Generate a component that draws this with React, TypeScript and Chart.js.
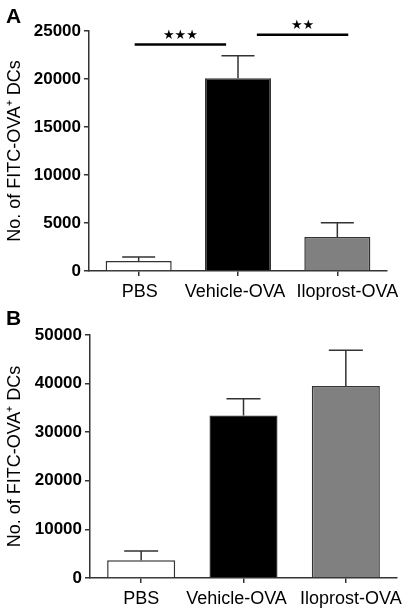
import React, { useEffect, useRef } from "react";
import { Chart, registerables } from "chart.js";

Chart.register(...registerables);

const categories = ["PBS", "Vehicle-OVA", "Iloprost-OVA"];
const barColors = ["#ffffff", "#000000", "#808080"];

// Panel A
const meanA = [1040, 20070, 3540];
const errTopA = [1460, 22430, 5035];
const ticksA = { max: 25000, step: 5000 };
const sigA = [
  { from: -0.04, to: 0.88, y: 23600, label: "★★★" },
  { from: 1.19, to: 2.11, y: 24600, label: "★★" },
];

// Panel B
const meanB = [3640, 33450, 39490];
const errTopB = [5560, 36880, 46840];
const ticksB = { max: 50000, step: 10000 };

const yTitle = "No. of FITC-OVA⁺ DCs";
const FONT = "'Liberation Sans', Arial, Helvetica, sans-serif";
const AXIS = "#333333";

type Sig = { from: number; to: number; y: number; label: string };
type Geo = {
  top: number;
  right: number;
  yWidth: number;
  xHeight: number;
  letterBase: number;
  labelNudge: number[];
};

function makeChart(
  canvas: HTMLCanvasElement,
  panel: string,
  means: number[],
  errTops: number[],
  t: { max: number; step: number },
  sig: Sig[],
  geo: Geo
) {
  const overlay = {
    id: "overlay" + panel,
    afterDatasetsDraw(chart: any) {
      const ctx = chart.ctx;
      const ys = chart.scales.y;
      const xs = chart.scales.x;
      const meta = chart.getDatasetMeta(0);
      ctx.save();
      // error bars
      ctx.strokeStyle = AXIS;
      ctx.lineWidth = 1.5;
      meta.data.forEach((bar: any, i: number) => {
        const yTop = ys.getPixelForValue(means[i]);
        const yErr = ys.getPixelForValue(errTops[i]);
        const half = bar.width / 4;
        ctx.beginPath();
        ctx.moveTo(bar.x, yTop);
        ctx.lineTo(bar.x, yErr);
        ctx.moveTo(bar.x - half, yErr);
        ctx.lineTo(bar.x + half, yErr);
        ctx.stroke();
      });
      // significance lines
      sig.forEach((s) => {
        const x1 = xs.getPixelForValue(s.from);
        const x2 = xs.getPixelForValue(s.to);
        const y = ys.getPixelForValue(s.y);
        ctx.strokeStyle = "#000";
        ctx.lineWidth = 2.5;
        ctx.beginPath();
        ctx.moveTo(x1, y);
        ctx.lineTo(x2, y);
        ctx.stroke();
        ctx.fillStyle = "#000";
        ctx.font = "13px 'DejaVu Sans', sans-serif";
        ctx.textAlign = "center";
        ctx.textBaseline = "middle";
        ctx.fillText(s.label, (x1 + x2) / 2, y - 9);
      });
      // category labels
      ctx.fillStyle = "#000";
      ctx.font = "18px " + FONT;
      ctx.textAlign = "center";
      ctx.textBaseline = "alphabetic";
      categories.forEach((c, i) => {
        const x = xs.getPixelForValue(i) + geo.labelNudge[i];
        ctx.fillText(c, x, xs.top + 26);
      });
      // panel letter
      ctx.font = "bold 21px " + FONT;
      ctx.textAlign = "left";
      ctx.fillText(panel, 6, geo.letterBase);
      ctx.restore();
    },
  };

  return new Chart(canvas, {
    type: "bar",
    data: {
      labels: categories,
      datasets: [
        {
          data: means,
          backgroundColor: barColors,
          borderColor: AXIS,
          borderWidth: 1.5,
          barPercentage: 0.665,
          categoryPercentage: 1,
        },
      ],
    },
    options: {
      responsive: false,
      animation: false,
      devicePixelRatio: 1,
      layout: { padding: { left: 0, top: geo.top, right: geo.right, bottom: 0 } },
      plugins: { legend: { display: false }, tooltip: { enabled: false } },
      scales: {
        x: {
          type: "category",
          offset: true,
          grid: {
            display: true,
            offset: false,
            drawOnChartArea: false,
            drawTicks: true,
            tickLength: 5,
            color: AXIS,
            lineWidth: 1.5,
          },
          border: { display: true, color: AXIS, width: 1.5 },
          ticks: {
            display: false,
          },
          afterFit(scale: any) {
            scale.height = geo.xHeight;
          },
        },
        y: {
          min: 0,
          max: t.max,
          grid: {
            display: true,
            drawOnChartArea: false,
            drawTicks: true,
            tickLength: 5,
            color: AXIS,
            lineWidth: 1.5,
          },
          border: { display: true, color: AXIS, width: 1.5 },
          ticks: {
            stepSize: t.step,
            font: { family: FONT, size: 17, weight: "bold" },
            color: "#000",
            padding: 3,
            callback: (v: any) => String(v),
          },
          title: {
            display: true,
            text: yTitle,
            font: { family: FONT, size: 18 },
            color: "#000",
            padding: { top: 4, bottom: 0 },
          },
          afterFit(scale: any) {
            scale.width = geo.yWidth;
          },
        },
      },
    } as any,
    plugins: [overlay],
  });
}

export default function App() {
  const refA = useRef<HTMLCanvasElement>(null);
  const refB = useRef<HTMLCanvasElement>(null);

  useEffect(() => {
    const a = makeChart(refA.current!, "A", meanA, errTopA, ticksA, sigA, {
      top: 31,
      right: 22,
      yWidth: 89,
      xHeight: 29,
      letterBase: 23,
      labelNudge: [1, -3, 10],
    });
    const b = makeChart(refB.current!, "B", meanB, errTopB, ticksB, [], {
      top: 35,
      right: 12,
      yWidth: 90,
      xHeight: 33,
      letterBase: 25,
      labelNudge: [0, -7, 5],
    });
    return () => {
      a.destroy();
      b.destroy();
    };
  }, []);

  return (
    <div style={{ position: "absolute", left: 0, top: 0, width: 409, height: 611, background: "#fff" }}>
      <canvas ref={refA} width={409} height={300} style={{ display: "block", width: 409, height: 300 }} />
      <canvas ref={refB} width={409} height={311} style={{ display: "block", width: 409, height: 311 }} />
    </div>
  );
}
